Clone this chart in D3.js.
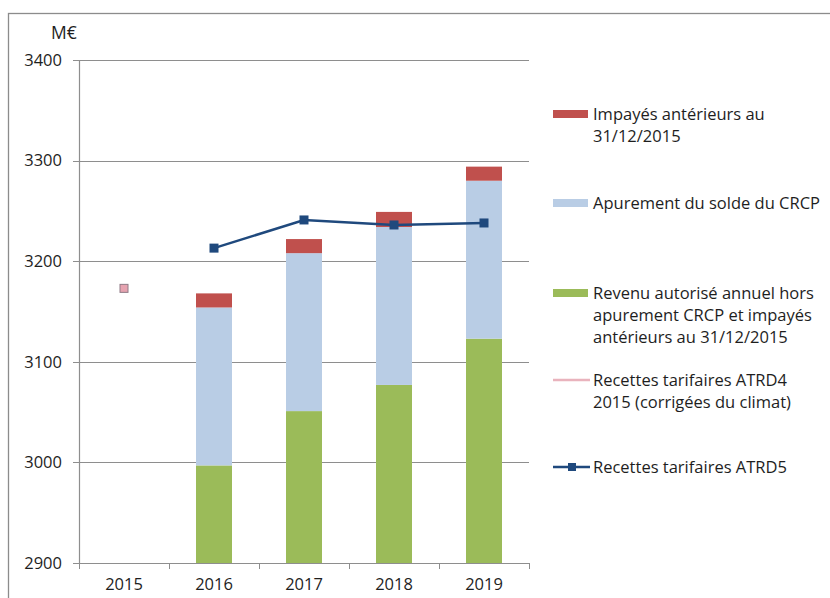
<!DOCTYPE html>
<html>
<head>
<meta charset="utf-8">
<script src="https://cdn.jsdelivr.net/npm/d3@7"></script>
<style>
  body { margin: 0; background: #fff; }
  svg { display: block; font-family: "Open Sans", "Liberation Sans", Arial, sans-serif; }
</style>
</head>
<body>
<div id="chart"></div>
<script>
// data (M€)
const years = ["2015", "2016", "2017", "2018", "2019"];
const revenuAutorise = [null, 2997, 3051, 3077, 3123];   // green, absolute level
const apurementCRCP = [null, 157, 157, 157, 157];       // light blue, stacked on green
const impayes = [null, 14, 14, 15, 14];                  // red, stacked on top
const recettesATRD4 = [3173, null, null, null, null];    // pink marker, 2015 only
const recettesATRD5 = [null, 3213, 3241, 3236, 3238];    // dark blue line
const yTicks = [2900, 3000, 3100, 3200, 3300, 3400];

const legendItems = [
    { type: "bar", color: "#c0504d", lines: ["Impayés antérieurs au", "31/12/2015"], y: 114 },
    { type: "bar", color: "#b9cde5", lines: ["Apurement du solde du CRCP"], y: 203 },
    { type: "bar", color: "#9bbb59", lines: ["Revenu autorisé annuel hors", "apurement CRCP et impayés", "antérieurs au 31/12/2015"], y: 293 },
    { type: "pink", color: "#e9b3bd", lines: ["Recettes tarifaires ATRD4", "2015 (corrigées du climat)"], y: 380 },
    { type: "line", color: "#1f497d", lines: ["Recettes tarifaires ATRD5"], y: 467 }
];

const width = 830, height = 598;
const svg = d3.select("#chart").append("svg")
    .attr("width", width)
    .attr("height", height);

// outer frame
svg.append("rect")
    .attr("x", 8.5).attr("y", 13.5)
    .attr("width", 840).attr("height", 620)
    .attr("fill", "none")
    .attr("stroke", "#8c8c8c")
    .attr("stroke-width", 1.3);

const x = d3.scaleBand().domain(years).range([79, 529]);
const y = d3.scaleLinear().domain([2900, 3400]).range([563, 60]).clamp(true);

const textColor = "#1e1e1e";

// gridlines
svg.append("g").selectAll("line")
    .data(yTicks.slice(1))
    .enter().append("line")
    .attr("x1", 79).attr("x2", 529)
    .attr("y1", d => Math.round(y(d)) + 0.5)
    .attr("y2", d => Math.round(y(d)) + 0.5)
    .attr("stroke", "#8e8e8e")
    .attr("stroke-width", 1.2);

// stacked bars
const table = years.map((yr, i) => ({
    year: yr,
    green: revenuAutorise[i] || 0,
    blue: apurementCRCP[i] || 0,
    red: impayes[i] || 0
}));
const stack = d3.stack().keys(["green", "blue", "red"]);
const colors = { green: "#9bbb59", blue: "#b9cde5", red: "#c0504d" };
const barW = 36;

svg.append("g").selectAll("g")
    .data(stack(table))
    .enter().append("g")
    .attr("fill", d => colors[d.key])
    .selectAll("rect")
    .data(d => d.filter(s => s[1] > s[0]))
    .enter().append("rect")
    .attr("x", d => x(d.data.year) + x.bandwidth() / 2 - barW / 2)
    .attr("width", barW)
    .attr("y", d => y(d[1]))
    .attr("height", d => y(d[0]) - y(d[1]));

// axes
const axisColor = "#8e8e8e";
svg.append("line")
    .attr("x1", 79.5).attr("x2", 79.5).attr("y1", 60).attr("y2", 563)
    .attr("stroke", axisColor).attr("stroke-width", 1.2);
svg.append("line")
    .attr("x1", 79).attr("x2", 529).attr("y1", 563.5).attr("y2", 563.5)
    .attr("stroke", axisColor).attr("stroke-width", 1.2);

svg.append("g").selectAll("line")
    .data(yTicks)
    .enter().append("line")
    .attr("x1", 73).attr("x2", 79)
    .attr("y1", d => Math.round(y(d)) + 0.5)
    .attr("y2", d => Math.round(y(d)) + 0.5)
    .attr("stroke", axisColor);

svg.append("g").selectAll("line")
    .data(years.map(yr => x(yr)).concat([x.range()[1]]))
    .enter().append("line")
    .attr("x1", d => Math.round(d) + 0.5).attr("x2", d => Math.round(d) + 0.5)
    .attr("y1", 563).attr("y2", 569)
    .attr("stroke", axisColor);

svg.append("g").selectAll("text")
    .data(yTicks)
    .enter().append("text")
    .attr("x", 62)
    .attr("y", d => y(d))
    .attr("dy", "0.35em")
    .attr("text-anchor", "end")
    .attr("font-size", 16.5)
    .attr("fill", textColor)
    .text(d => d);

svg.append("g").selectAll("text")
    .data(years)
    .enter().append("text")
    .attr("x", d => x(d) + x.bandwidth() / 2)
    .attr("y", 584)
    .attr("dy", "0.35em")
    .attr("text-anchor", "middle")
    .attr("font-size", 16.5)
    .attr("fill", textColor)
    .text(d => d);

svg.append("text")
    .attr("x", 51).attr("y", 33).attr("dy", "0.35em")
    .attr("font-size", 17.5)
    .attr("fill", textColor)
    .text("M€");

// ATRD4 marker (2015)
svg.append("g").selectAll("rect")
    .data(years.map((yr, i) => ({ year: yr, v: recettesATRD4[i] })).filter(d => d.v != null))
    .enter().append("rect")
    .attr("x", d => x(d.year) + x.bandwidth() / 2 - 4)
    .attr("y", d => y(d.v) - 4)
    .attr("width", 8).attr("height", 8)
    .attr("fill", "#e6a3b0")
    .attr("stroke", "#8f7a86")
    .attr("stroke-width", 1);

// ATRD5 line
const atrd5 = years.map((yr, i) => ({ year: yr, v: recettesATRD5[i] })).filter(d => d.v != null);
const line = d3.line()
    .x(d => x(d.year) + x.bandwidth() / 2)
    .y(d => y(d.v));
svg.append("path")
    .datum(atrd5)
    .attr("d", line)
    .attr("fill", "none")
    .attr("stroke", "#1f497d")
    .attr("stroke-width", 2.5);
svg.append("g").selectAll("rect")
    .data(atrd5)
    .enter().append("rect")
    .attr("x", d => x(d.year) + x.bandwidth() / 2 - 4.5)
    .attr("y", d => y(d.v) - 4.5)
    .attr("width", 9).attr("height", 9)
    .attr("fill", "#1f497d");

// legend
const legend = svg.append("g");
legendItems.forEach(item => {
    const g = legend.append("g");
    if (item.type === "bar") {
        g.append("rect")
            .attr("x", 553).attr("y", item.y - 4)
            .attr("width", 35).attr("height", 8)
            .attr("fill", item.color);
    } else if (item.type === "pink") {
        g.append("line")
            .attr("x1", 553).attr("x2", 590)
            .attr("y1", item.y).attr("y2", item.y)
            .attr("stroke", item.color).attr("stroke-width", 2.5);
    } else {
        g.append("line")
            .attr("x1", 553).attr("x2", 590)
            .attr("y1", item.y).attr("y2", item.y)
            .attr("stroke", item.color).attr("stroke-width", 2.5);
        g.append("rect")
            .attr("x", 568).attr("y", item.y - 4)
            .attr("width", 8).attr("height", 8)
            .attr("fill", item.color);
    }
    g.selectAll("text")
        .data(item.lines)
        .enter().append("text")
        .attr("x", 593)
        .attr("y", (d, i) => item.y + i * 22)
        .attr("dy", "0.35em")
        .attr("font-size", 16.5)
        .attr("fill", textColor)
        .text(d => d);
});
</script>
</body>
</html>
